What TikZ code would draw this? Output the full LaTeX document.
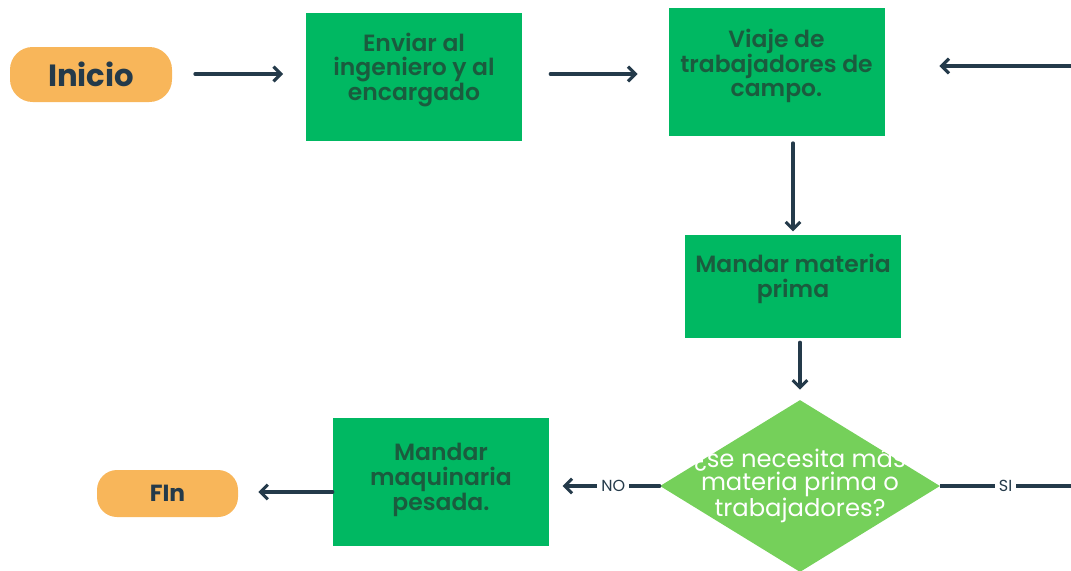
\documentclass[tikz,border=0pt]{standalone}
\usepackage{fontspec}
\setmainfont{Poppins}[BoldFont={Poppins SemiBold}]
\newfontfamily\heavyfont{Poppins}
\usetikzlibrary{shapes.geometric,arrows.meta,calc}
\definecolor{orng}{HTML}{F8B65A}
\definecolor{grn}{HTML}{00B862}
\definecolor{lgrn}{HTML}{75D05A}
\definecolor{dgrn}{HTML}{1B5B3E}
\definecolor{ink}{HTML}{243A4A}
\tikzset{
  pill/.style={rectangle, rounded corners=17pt, fill=orng, inner sep=0pt, text=ink},
  procbox/.style={rectangle, fill=grn, inner sep=0pt, minimum width=162pt},
  boxtext/.style={text=dgrn, align=center, font=\bfseries\fontsize{17.6}{18.6}\selectfont, inner sep=0pt},
  decision/.style={diamond, fill=lgrn, inner sep=0pt, minimum width=210pt, minimum height=129pt},
  dtext/.style={text=white, align=center, font=\fontsize{18.2}{17.4}\selectfont, inner sep=0pt},
  conn/.style={draw=ink, line width=2.3pt, line cap=round, -{Straight Barb[length=5.5pt,width=11pt,line width=2.3pt]}},
  plain/.style={draw=ink, line width=2.3pt},
  lbl/.style={fill=white, text=ink, font=\fontsize{12}{14}\selectfont, inner sep=3pt}
}
\begin{document}
\begin{tikzpicture}[x=0.75pt,y=-0.75pt]
\useasboundingbox (0,0) rectangle (1071,571);
% nodes
\node[pill, minimum width=121.5pt, minimum height=41.25pt, font=\heavyfont\bfseries\fontsize{23}{26}\selectfont] (ini) at (91,74.5) {Inicio};
\node[procbox, minimum height=96pt] (b1) at (414,77) {};
\node[boxtext] (b1t) at (414,70) {Enviar al\\ingeniero y al\\encargado};
\node[procbox, minimum height=96pt] (b2) at (776.5,72) {};
\node[boxtext] (b2t) at (776.5,66) {Viaje de\\trabajadores de\\campo.};
\node[procbox, minimum height=77.25pt] (b3) at (793,286.5) {};
\node[boxtext] (b3t) at (793,279) {Mandar materia\\prima};
\node[decision] (d) at (800,486) {};
\node[dtext] (dt) at (800,486) {¿se necesita más\\materia prima o\\trabajadores?};
\node[procbox, minimum height=96pt] (b4) at (441,482) {};
\node[boxtext] (b4t) at (441,480) {Mandar\\maquinaria\\pesada.};
\node[pill, minimum width=105.75pt, minimum height=35.25pt, rounded corners=15pt, font=\heavyfont\bfseries\fontsize{17.5}{20}\selectfont] (fin) at (167.5,493.5) {FIn};
\coordinate (rtop) at (1071,66);
\coordinate (rbot) at (1071,487);
% connectors
\draw[conn, shorten <=17pt, shorten >=17pt] (ini.east |- 0,74) -- (b1.west |- 0,74);
\draw[conn, shorten <=21pt, shorten >=23pt] (b1.east |- 0,74) -- (b2.west |- 0,74);
\draw[conn, shorten >=41pt] (rtop) -- (rtop -| b2.east);
\draw[conn, shorten <=5pt, shorten >=2.5pt] (b3.north |- b2.south) -- (b3.north);
\draw[conn, shorten <=3pt, shorten >=7.5pt] (d.north |- b3.south) -- (d.north);
\draw[conn, shorten >=10pt] (d.west) -- node[lbl, pos=0.42] (no) {NO} (d.west -| b4.east);
\draw[plain] (d.east) -- node[lbl, pos=0.5] (si) {SI} (d.east -| rbot);
\draw[conn, shorten >=15pt] (b4.west |- 0,492) -- (fin.east |- 0,492);
\end{tikzpicture}
\end{document}
